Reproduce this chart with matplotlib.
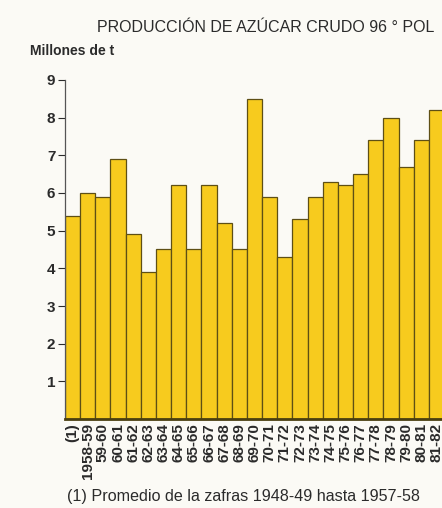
import matplotlib
matplotlib.use("Agg")
import matplotlib.pyplot as plt

# produccion de azucar crudo, millones de t
zafras = ["(1)", "1958-59", "59-60", "60-61", "61-62", "62-63", "63-64",
          "64-65", "65-66", "66-67", "67-68", "68-69", "69-70", "70-71",
          "71-72", "72-73", "73-74", "74-75", "75-76", "76-77", "77-78",
          "78-79", "79-80", "80-81", "81-82"]
produccion = [5.4, 6.0, 5.9, 6.9, 4.9, 3.9, 4.5, 6.2, 4.5, 6.2, 5.2, 4.5,
              8.5, 5.9, 4.3, 5.3, 5.9, 6.3, 6.2, 6.5, 7.4, 8.0, 6.7, 7.4, 8.2]
yticks = [1, 2, 3, 4, 5, 6, 7, 8, 9]

plt.rcParams['font.family'] = ['Liberation Sans', 'DejaVu Sans']
bg = "#fbfaf5"
ink = "#2b2b2b"

fig = plt.figure(figsize=(4.42, 5.08), dpi=100, facecolor=bg)
ax = fig.add_axes([65 / 442, 89 / 508, 379 / 442, 339 / 508], facecolor=bg)

x = range(len(zafras))
ax.bar(x, produccion, width=1.0, color="#f7cb1e", edgecolor="#5e4f15",
       linewidth=0.9)

ax.set_xlim(-0.5, len(zafras) - 0.5)
ax.set_ylim(0, 9)
ax.set_yticks(yticks)
ax.set_yticklabels([str(v) for v in yticks], fontsize=11, color=ink,
                   fontweight="bold")
ax.tick_params(axis="y", direction="out", length=5, width=0.8, color=ink,
               pad=2)
ax.set_xticks(list(x))
ax.set_xticklabels(zafras, rotation=90, fontsize=11, fontweight="bold",
                   color=ink, va="top")
ax.tick_params(axis="x", length=0, pad=3)

for s in ["top", "right"]:
    ax.spines[s].set_visible(False)
ax.spines["left"].set_color("#555555")
ax.spines["left"].set_linewidth(0.9)
ax.spines["bottom"].set_color("#4a3f10")
ax.spines["bottom"].set_linewidth(2.0)

fig.text(97 / 442, 1 - 28 / 508, "PRODUCCIÓN DE AZÚCAR CRUDO 96 ° POL",
         fontsize=11.5, color=ink, va="center", ha="left")
fig.text(30 / 442, 1 - 51 / 508, "Millones de t", fontsize=10,
         fontweight="bold", color=ink, va="center", ha="left")
fig.text(67 / 442, 1 - 497 / 508,
         "(1) Promedio de la zafras 1948-49 hasta 1957-58",
         fontsize=11.6, color=ink, va="center", ha="left")

fig.savefig("out.png", dpi=100, facecolor=bg)
